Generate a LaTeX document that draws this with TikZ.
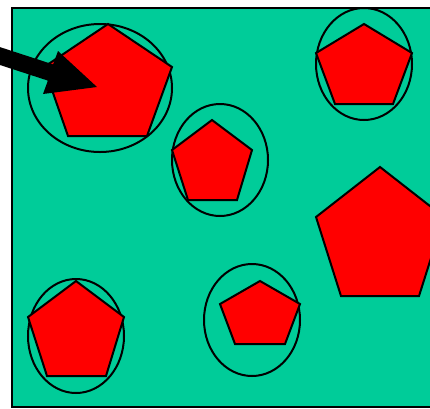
\documentclass[tikz,border=0pt]{standalone}
\definecolor{bggreen}{RGB}{0,204,153}
\begin{document}
\begin{tikzpicture}[x=1pt,y=-1pt,
  penta/.style={fill=red,draw=black,line width=2pt,line join=miter},
  ring/.style={draw=black,line width=2pt},
  arrowshape/.style={fill=black,draw=none}]
\useasboundingbox (0,0) rectangle (430,408);
\fill[white] (0,0) rectangle (430,408);
\draw[fill=bggreen,line width=2pt] (12,8) rectangle (445,407);
% ellipses
\draw[ring] (100,88) ellipse [x radius=72,y radius=64];
\draw[ring] (364,64) ellipse [x radius=48,y radius=56];
\draw[ring] (220,160) ellipse [x radius=48,y radius=56];
\draw[ring] (76,336) ellipse [x radius=48,y radius=57];
\draw[ring] (252,320) ellipse [x radius=48,y radius=56];
% pentagons
\draw[penta] (108,24) -- (172,67) -- (147,136) -- (68,136) -- (44,67) -- cycle;
\draw[penta] (364,24) -- (412,53) -- (393,104) -- (335,104) -- (316,53) -- cycle;
\draw[penta] (212,120) -- (252,150) -- (237,200) -- (188,200) -- (172,150) -- cycle;
\draw[penta] (380,167) -- (444,217) -- (419,296) -- (341,296) -- (316,217) -- cycle;
\draw[penta] (76,281) -- (124,317) -- (106,376) -- (47,376) -- (28,317) -- cycle;
\draw[penta] (260,281) -- (300,304) -- (285,344) -- (235,344) -- (220,304) -- cycle;
% arrow
\fill[arrowshape] (-7.4,44.7) -- (53.1,64.4) -- (58,51) -- (97,87) -- (43,94) -- (47.9,80.6) -- (-12.6,60.9) -- cycle;
\end{tikzpicture}
\end{document}
